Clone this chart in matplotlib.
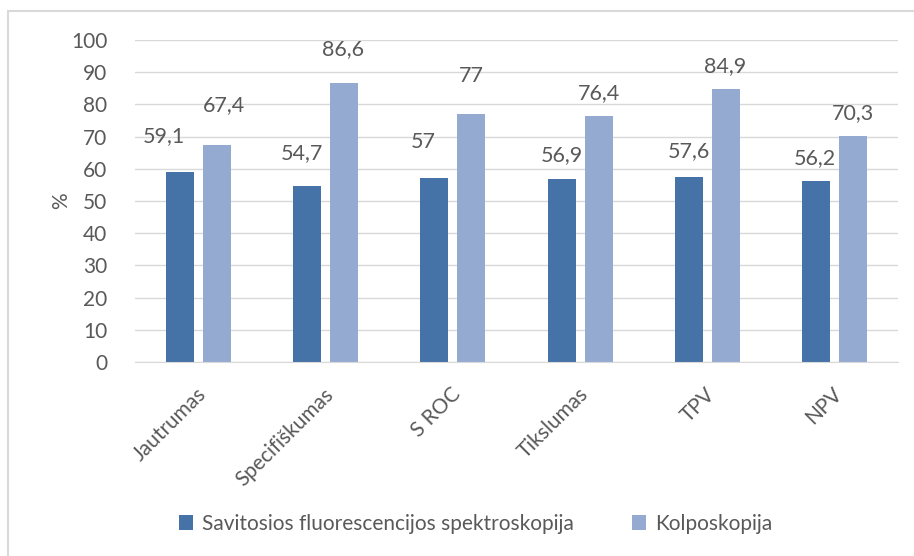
import numpy as np
import matplotlib
matplotlib.use("Agg")
import matplotlib.pyplot as plt
from matplotlib.patches import Rectangle
import matplotlib.transforms as mtransforms

# data
categories = ['Jautrumas', 'Specifiškumas', 'S ROC', 'Tikslumas', 'TPV', 'NPV']
sfs = [59.1, 54.7, 57, 56.9, 57.6, 56.2]
kolpo = [67.4, 86.6, 77, 76.4, 84.9, 70.3]
sfs_labels = ['59,1', '54,7', '57', '56,9', '57,6', '56,2']
kolpo_labels = ['67,4', '86,6', '77', '76,4', '84,9', '70,3']
series_names = ['Savitosios fluorescencijos spektroskopija', 'Kolposkopija']
yticks = np.arange(0, 101, 10)

# label offsets (pixels) - labels were moved by hand in the original
sfs_off = [(-16, 36), (-5, 33), (-11, 36), (0, 24), (0, 25), (-1, 23)]
kolpo_off = [(7, 40), (-1, 34), (0, 38), (0, 23), (-1, 23), (0, 23)]

plt.rcParams['font.family'] = ['Lato', 'DejaVu Sans']
txt = '#595959'
c_dark = '#4572A7'
c_light = '#95AAD1'
fs = 15

fig = plt.figure(figsize=(9.14, 5.56), dpi=100)
ax = fig.add_axes([0.1477, 0.3489, 0.8348, 0.5791])

# chart border
fig.patches.append(Rectangle((8 / 914, -0.05), 1.0, 1 - 11 / 556 + 0.05, transform=fig.transFigure,
                             fill=False, edgecolor='#D9D9D9', lw=1.5))

x = np.arange(len(categories))
w = 0.22
b1 = ax.bar(x - 0.145, sfs, w, color=c_dark, label=series_names[0], zorder=3)
b2 = ax.bar(x + 0.145, kolpo, w, color=c_light, label=series_names[1], zorder=3)

for i in range(len(categories)):
    ax.annotate(sfs_labels[i], (x[i] - 0.145, sfs[i]), xytext=sfs_off[i], textcoords='offset pixels',
                ha='center', va='center', fontsize=fs + 0.5, color=txt)
    ax.annotate(kolpo_labels[i], (x[i] + 0.145, kolpo[i]), xytext=kolpo_off[i], textcoords='offset pixels',
                ha='center', va='center', fontsize=fs + 0.5, color=txt)

ax.set_xlim(-0.5, len(categories) - 0.5)
ax.set_ylim(0, 100)
ax.set_yticks(yticks)
ax.yaxis.grid(True, color='#D9D9D9', lw=1, zorder=0)
ax.tick_params(axis='both', length=0, labelsize=fs, labelcolor=txt)
ax.tick_params(axis='y', pad=20)
for s in ['top', 'right', 'left']:
    ax.spines[s].set_visible(False)
ax.spines['bottom'].set_color('#D9D9D9')
ax.spines['bottom'].set_zorder(4)

ax.set_xticks(x)
ax.set_xticklabels(categories, rotation=45, ha='right', va='center', rotation_mode='anchor')
ax.tick_params(axis='x', pad=21)
offset = mtransforms.ScaledTranslation(5 / 100, 0, fig.dpi_scale_trans)
for lab in ax.get_xticklabels():
    lab.set_transform(lab.get_transform() + offset)

ax.set_ylabel('%', fontsize=fs, color=txt, labelpad=0)

fig.legend(handles=[b1, b2], loc='center', bbox_to_anchor=(0.52, 0.0576), ncol=2, frameon=False,
           fontsize=fs, labelcolor=txt, handlelength=0.7, handleheight=0.7, handletextpad=0.4,
           columnspacing=2.8)

fig.savefig('out.png', dpi=100)
